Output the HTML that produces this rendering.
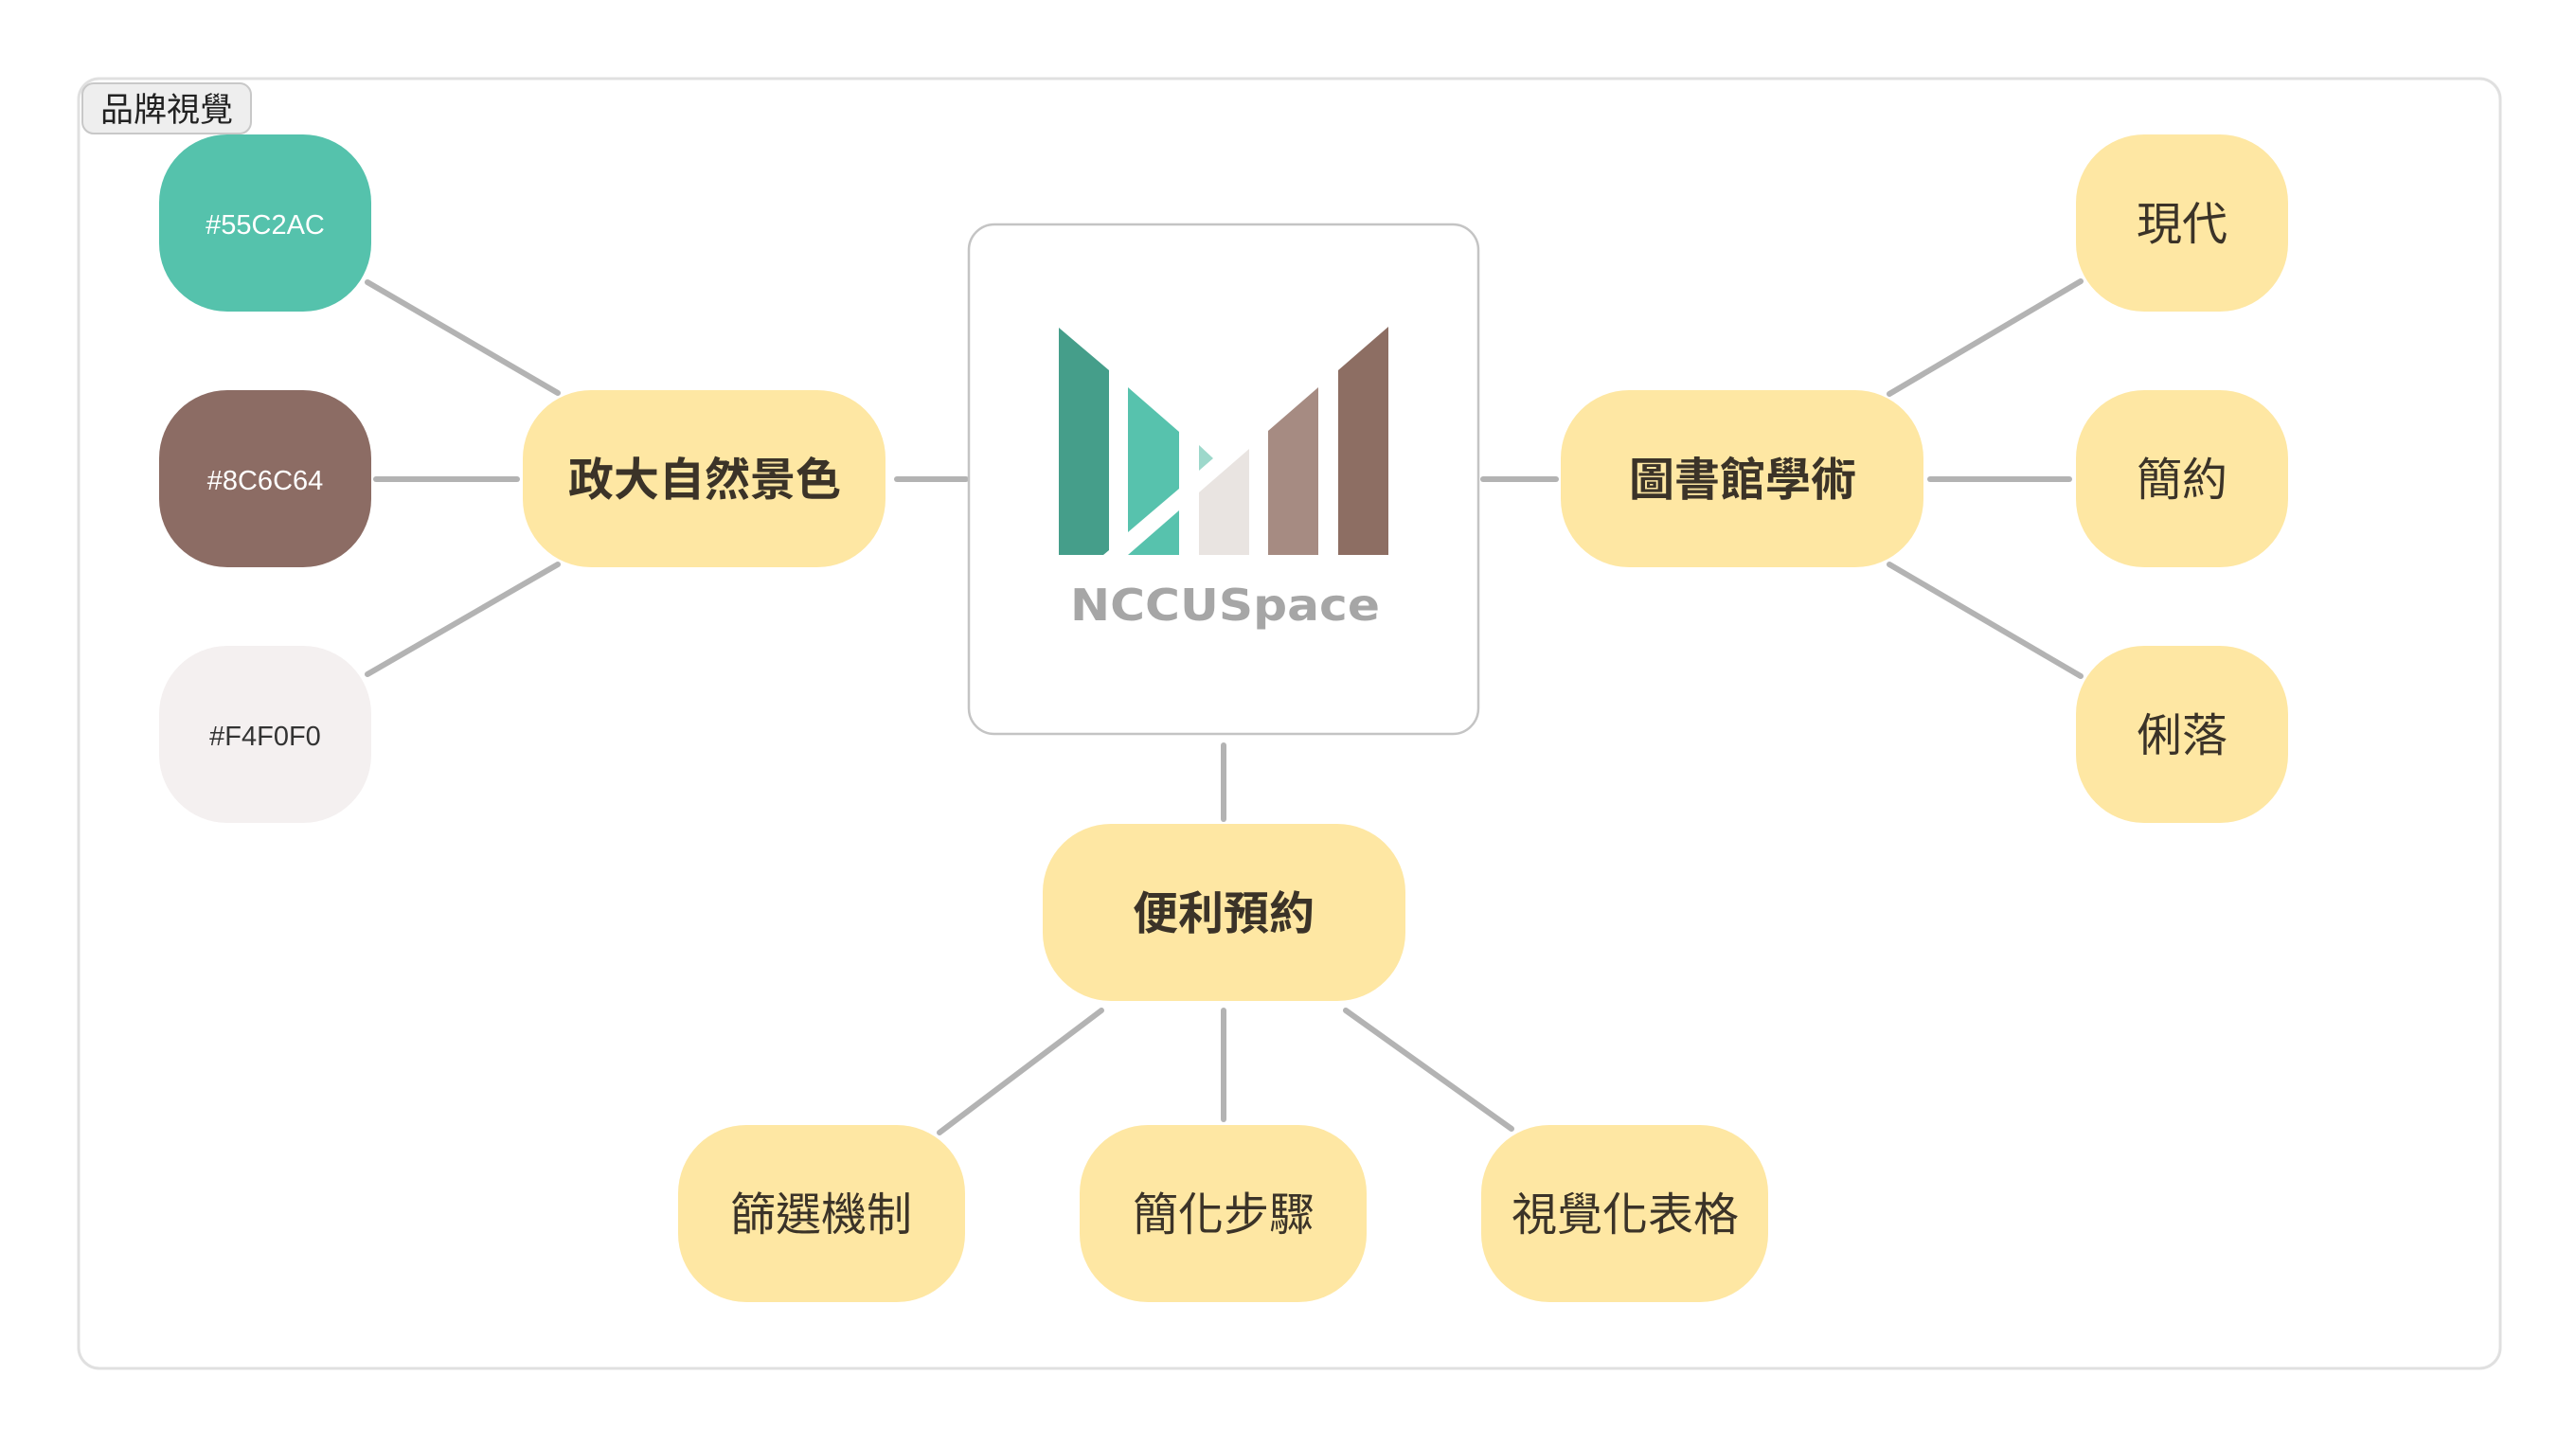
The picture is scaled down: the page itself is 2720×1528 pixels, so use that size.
<!DOCTYPE html>
<html><head><meta charset="utf-8"><style>
html,body{margin:0;padding:0;background:#fff;}
body{width:2720px;height:1528px;overflow:hidden;position:relative;}
svg{position:absolute;left:0;top:0;}
text{font-family:"Liberation Sans","Noto Sans CJK TC",sans-serif;}
</style></head><body>
<svg width="2720" height="1528" viewBox="0 0 2720 1528" xmlns="http://www.w3.org/2000/svg">
<rect x="83" y="83" width="2557" height="1362" rx="22" fill="#fff" stroke="#e0e0e0" stroke-width="3"/>
<rect x="87" y="88" width="178" height="53" rx="12" fill="#eeeeee" stroke="#c8c8c8" stroke-width="2"/>
<text x="176" y="128" font-size="35" text-anchor="middle" fill="#222">品牌視覺</text>

<g stroke="#b3b3b3" stroke-width="6" stroke-linecap="round" fill="none">
<line x1="388" y1="298" x2="589" y2="415"/>
<line x1="397" y1="506" x2="546" y2="506"/>
<line x1="388" y1="712" x2="589" y2="596"/>
<line x1="947" y1="506" x2="1020" y2="506"/>
<line x1="1566" y1="506" x2="1643" y2="506"/>
<line x1="1995" y1="416" x2="2197" y2="297"/>
<line x1="2038" y1="506" x2="2185" y2="506"/>
<line x1="1995" y1="596" x2="2197" y2="714"/>
<line x1="1292" y1="787" x2="1292" y2="865"/>
<line x1="1163" y1="1067" x2="992" y2="1196"/>
<line x1="1292" y1="1067" x2="1292" y2="1182"/>
<line x1="1421" y1="1067" x2="1596" y2="1192"/>
</g>

<rect x="168" y="142" width="224" height="187" rx="72" fill="#55c2ac"/>
<text x="280" y="247" font-size="29" text-anchor="middle" fill="#fff">#55C2AC</text>
<rect x="168" y="412" width="224" height="187" rx="72" fill="#8c6c64"/>
<text x="280" y="517" font-size="29" text-anchor="middle" fill="#fff">#8C6C64</text>
<rect x="168" y="682" width="224" height="187" rx="72" fill="#f4f0f0"/>
<text x="280" y="787" font-size="29" text-anchor="middle" fill="#333">#F4F0F0</text>

<g fill="#fee7a3">
<rect x="552" y="412" width="383" height="187" rx="72"/>
<rect x="1648" y="412" width="383" height="187" rx="72"/>
<rect x="1101" y="870" width="383" height="187" rx="72"/>
<rect x="2192" y="142" width="224" height="187" rx="72"/>
<rect x="2192" y="412" width="224" height="187" rx="72"/>
<rect x="2192" y="682" width="224" height="187" rx="72"/>
<rect x="716" y="1188" width="303" height="187" rx="72"/>
<rect x="1140" y="1188" width="303" height="187" rx="72"/>
<rect x="1564" y="1188" width="303" height="187" rx="72"/>
</g>
<g fill="#3b3328" text-anchor="middle" font-size="48">
<text x="744" y="523" font-weight="bold">政大自然景色</text>
<text x="1840" y="523" font-weight="bold">圖書館學術</text>
<text x="1292" y="981" font-weight="bold">便利預約</text>
<text x="2304" y="253">現代</text>
<text x="2304" y="523">簡約</text>
<text x="2304" y="793">俐落</text>
<text x="867" y="1299">篩選機制</text>
<text x="1292" y="1299">簡化步驟</text>
<text x="1716" y="1299">視覺化表格</text>
</g>

<rect x="1023" y="237" width="538" height="538" rx="27" fill="#fff" stroke="#c4c4c4" stroke-width="2.5"/>
<polygon points="1118,346 1171,391 1171,581 1165,586 1118,586" fill="#459e8a"/>
<polygon points="1191,409 1245,456 1245,516 1191,562" fill="#57c2ad"/>
<polygon points="1191,586 1245,539 1245,586" fill="#57c2ad"/>
<polygon points="1266,470 1281,484 1266,497" fill="#9dd8cb"/>
<polygon points="1266,520 1319,474 1319,586 1266,586" fill="#e9e4e1"/>
<polygon points="1339,455 1392,409 1392,586 1339,586" fill="#a68b82"/>
<polygon points="1413,391 1466,345 1466,586 1413,586" fill="#8d6e63"/>
<text x="1130" y="655" font-size="46" font-weight="bold" fill="#a6a6a6" textLength="327" lengthAdjust="spacingAndGlyphs" style="font-family:'DejaVu Sans',sans-serif">NCCUSpace</text>
</svg>
</body></html>
